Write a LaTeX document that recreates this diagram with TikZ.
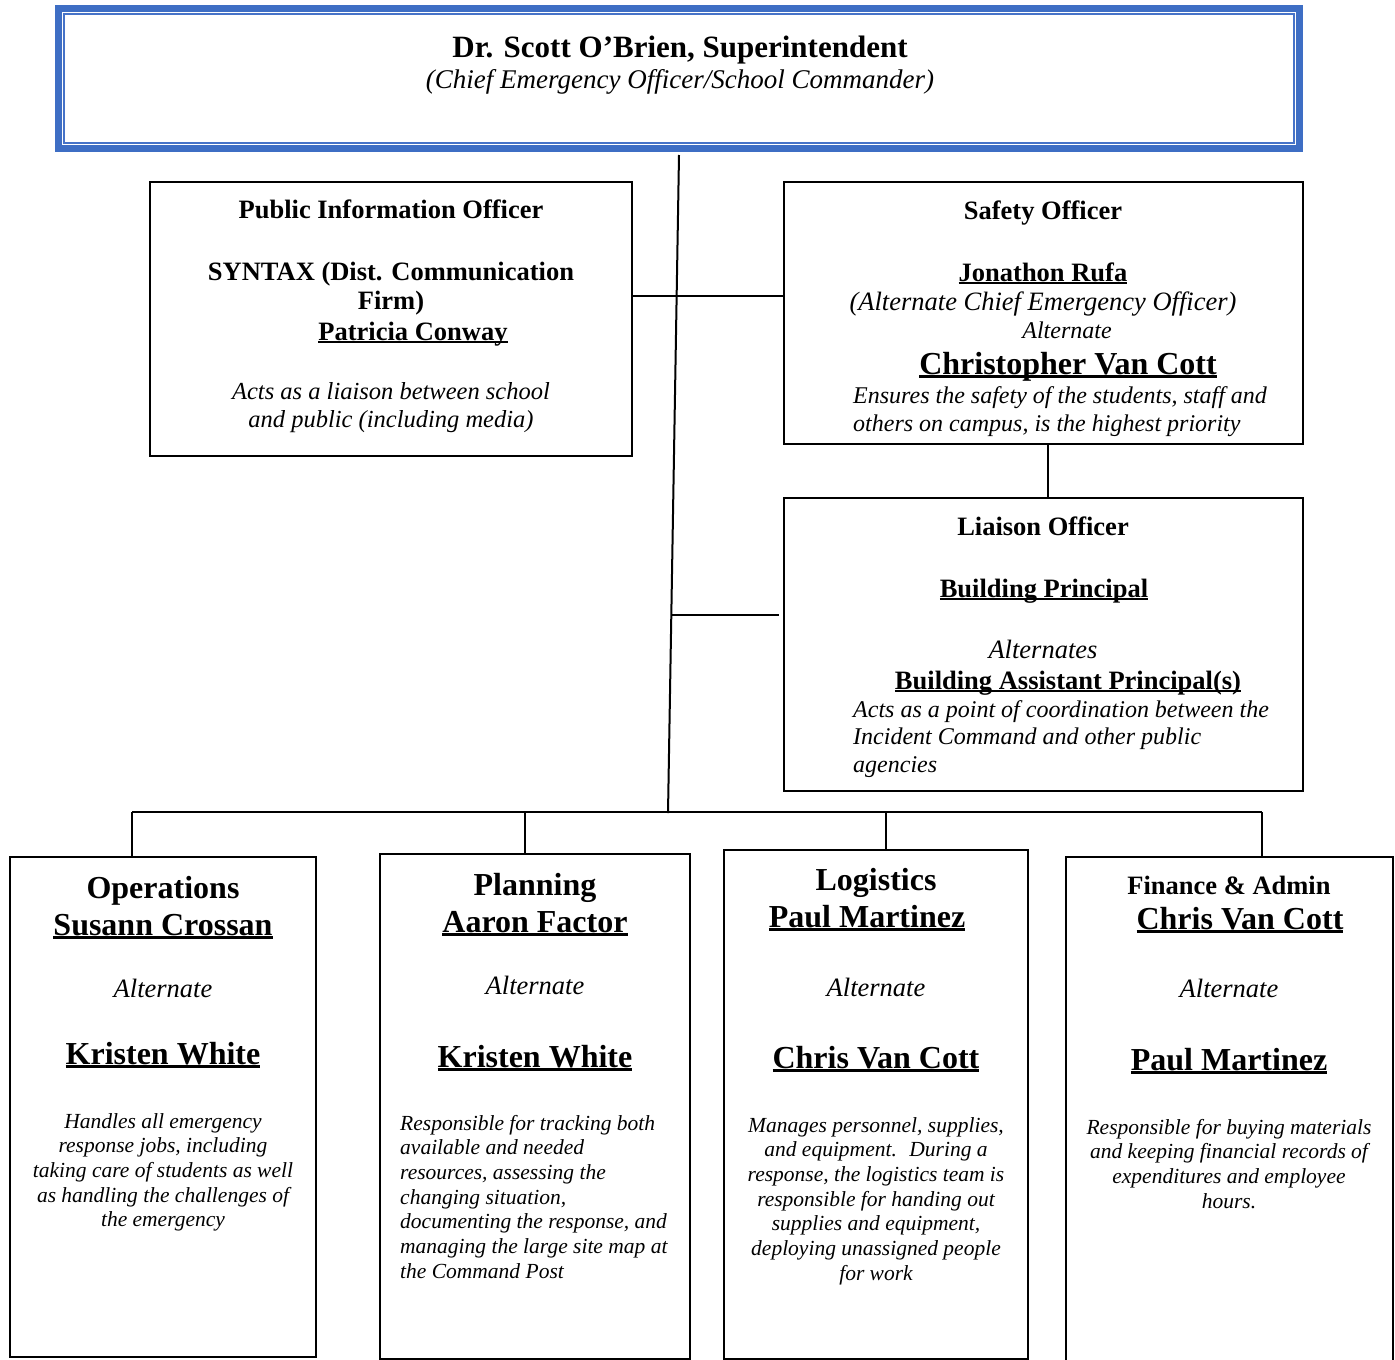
\documentclass[tikz,border=0pt]{standalone}
\usepackage{fontspec}
\setmainfont{Liberation Serif}
\usetikzlibrary{calc}
\definecolor{bandblue}{RGB}{62,110,196}
\definecolor{lineblue}{RGB}{70,115,200}
\newcommand\ulx[1]{\setbox0\hbox{#1}\rlap{\rule[-0.11em]{\wd0}{0.065em}}\box0}
\newcommand\fsz[2]{\fontsize{#1}{#2}\selectfont}
\begin{document}
\begin{tikzpicture}[x=1pt,y=-1pt,
  box/.style={draw=black, line width=2pt, rectangle, inner sep=0pt, outer sep=0pt, anchor=north west},
  link/.style={draw=black, line width=2pt},
  txt/.style={inner sep=0pt, anchor=base},
  txtl/.style={inner sep=0pt, anchor=base west},
  ttl/.style={txt, font=\fsz{31}{36}\bfseries},
  head/.style={txt, font=\fsz{26.5}{30}\bfseries},
  big/.style={txt, font=\fsz{32}{36}\bfseries},
  alt/.style={txt, font=\fsz{26.5}{30}\itshape},
]
\useasboundingbox (0,0) rectangle (1395,1360);
\fill[white] (0,0) rectangle (1395,1360);

% top box
\node[box, draw=bandblue, line width=7pt, minimum width=1241pt, minimum height=140pt] (top) at (58.5,8.5) {};
\node[box, draw=lineblue, line width=2.5pt, minimum width=1230pt, minimum height=129pt] (topin) at (64,14) {};
\node[ttl] (t1) at (680,57) {Dr. Scott O’Brien, Superintendent};
\node[txt, font=\fsz{27}{30}\itshape] (t2) at (680,88) {(Chief Emergency Officer/School Commander)};

% boxes
\node[box, minimum width=482pt, minimum height=274pt] (pio) at (150,182) {};
\node[box, minimum width=519pt, minimum height=262pt] (safety) at (784,182) {};
\node[box, minimum width=519pt, minimum height=293pt] (liaison) at (784,498) {};
\node[box, minimum width=306pt, minimum height=500pt] (ops) at (10,857) {};
\node[box, minimum width=310pt, minimum height=505pt] (plan) at (380,854) {};
\node[box, minimum width=304pt, minimum height=509pt] (logi) at (724,850) {};
\node[box, minimum width=327pt, minimum height=510pt] (fin) at (1066,857) {};

% connectors
\coordinate (trTop) at (679,155);
\coordinate (trBot) at (668,813);
\draw[link] (trTop) -- (trBot);
\coordinate (pioy) at (0,296);
\draw[link] (pio.east |- pioy) -- (safety.west |- pioy);
\coordinate (lj) at (671.3,615);
\draw[link] (lj) -- ([xshift=-5pt]liaison.west |- lj);
\coordinate (sl) at (1048,0);
\draw[link] (safety.south -| sl) -- (liaison.north -| sl);
\coordinate (busL) at (132,812);
\coordinate (busR) at (1262,812);
\draw[link] (busL) -- (busR);
\draw[link] (busL) -- (ops.north -| busL);
\coordinate (bp) at (525,812);
\draw[link] (bp) -- (plan.north -| bp);
\coordinate (bl) at (886,812);
\draw[link] (bl) -- (logi.north -| bl);
\draw[link] (busR) -- (fin.north -| busR);

% PIO text
\node[head] (p1) at (391,218) {Public Information Officer};
\node[head] (p2) at (391,280) {SYNTAX (Dist. Communication};
\node[head] (p3) at (391,309) {Firm)};
\node[head] (p4) at (413,340) {\ulx{Patricia Conway}};
\node[txt] (p5) at (391,399) {\parbox[t]{460pt}{\centering\fsz{24.5}{28}\itshape Acts as a liaison between school\\ and public (including media)}};

% Safety text
\node[head] (s1) at (1043,219) {Safety Officer};
\node[head] (s2) at (1043,281) {\ulx{Jonathon Rufa}};
\node[alt] (s3) at (1043,310) {(Alternate Chief Emergency Officer)};
\node[txt, font=\fsz{24}{28}\itshape] (s4) at (1067,338) {Alternate};
\node[big] (s5) at (1068,374) {\ulx{Christopher Van Cott}};
\node[txtl] (s6) at (853,403) {\parbox[t]{440pt}{\raggedright\fsz{24}{28}\itshape Ensures the safety of the students, staff and\\ others on campus, is the highest priority}};

% Liaison text
\node[head] (l1) at (1043,535) {Liaison Officer};
\node[head] (l2) at (1044,597) {\ulx{Building Principal}};
\node[alt] (l3) at (1043,658) {Alternates};
\node[head] (l4) at (1068,689) {\ulx{Building Assistant Principal(s)}};
\node[txtl] (l5) at (853,717) {\parbox[t]{440pt}{\raggedright\fsz{24}{27.5}\itshape Acts as a point of coordination between the\\ Incident Command and other public\\ agencies}};

% Operations
\node[big] (o1) at (163,898) {Operations};
\node[big] (o2) at (163,935) {\ulx{Susann Crossan}};
\node[alt] (o3) at (163,997) {Alternate};
\node[big] (o4) at (163,1064) {\ulx{Kristen White}};
\node[txt] (o5) at (163,1128) {\parbox[t]{296pt}{\centering\fsz{21.5}{24.7}\itshape Handles all emergency\\ response jobs, including\\ taking care of students as well\\ as handling the challenges of\\ the emergency}};

% Planning
\node[big] (n1) at (535,895) {Planning};
\node[big] (n2) at (535,932) {\ulx{Aaron Factor}};
\node[alt] (n3) at (535,994) {Alternate};
\node[big] (n4) at (535,1067) {\ulx{Kristen White}};
\node[txtl] (n5) at (400,1130) {\parbox[t]{285pt}{\raggedright\fsz{21.5}{24.7}\itshape Responsible for tracking both\\ available and needed\\ resources, assessing the\\ changing situation,\\ documenting the response, and\\ managing the large site map at\\ the Command Post}};

% Logistics
\node[big] (g1) at (876,890) {Logistics};
\node[big] (g2) at (867,927) {\ulx{Paul Martinez}};
\node[alt] (g3) at (876,996) {Alternate};
\node[big] (g4) at (876,1068) {\ulx{Chris Van Cott}};
\node[txt] (g5) at (876,1132) {\parbox[t]{296pt}{\centering\fsz{21.5}{24.7}\itshape Manages personnel, supplies,\\ and equipment.~ During a\\ response, the logistics team is\\ responsible for handing out\\ supplies and equipment,\\ deploying unassigned people\\ for work}};

% Finance
\node[head] (f1) at (1229,894) {Finance \& Admin};
\node[big] (f2) at (1240,929) {\ulx{Chris Van Cott}};
\node[alt] (f3) at (1229,997) {Alternate};
\node[big] (f4) at (1229,1070) {\ulx{Paul Martinez}};
\node[txt] (f5) at (1229,1134) {\parbox[t]{318pt}{\centering\fsz{21.5}{24.7}\itshape Responsible for buying materials\\ and keeping financial records of\\ expenditures and employee\\ hours.}};
\end{tikzpicture}
\end{document}
